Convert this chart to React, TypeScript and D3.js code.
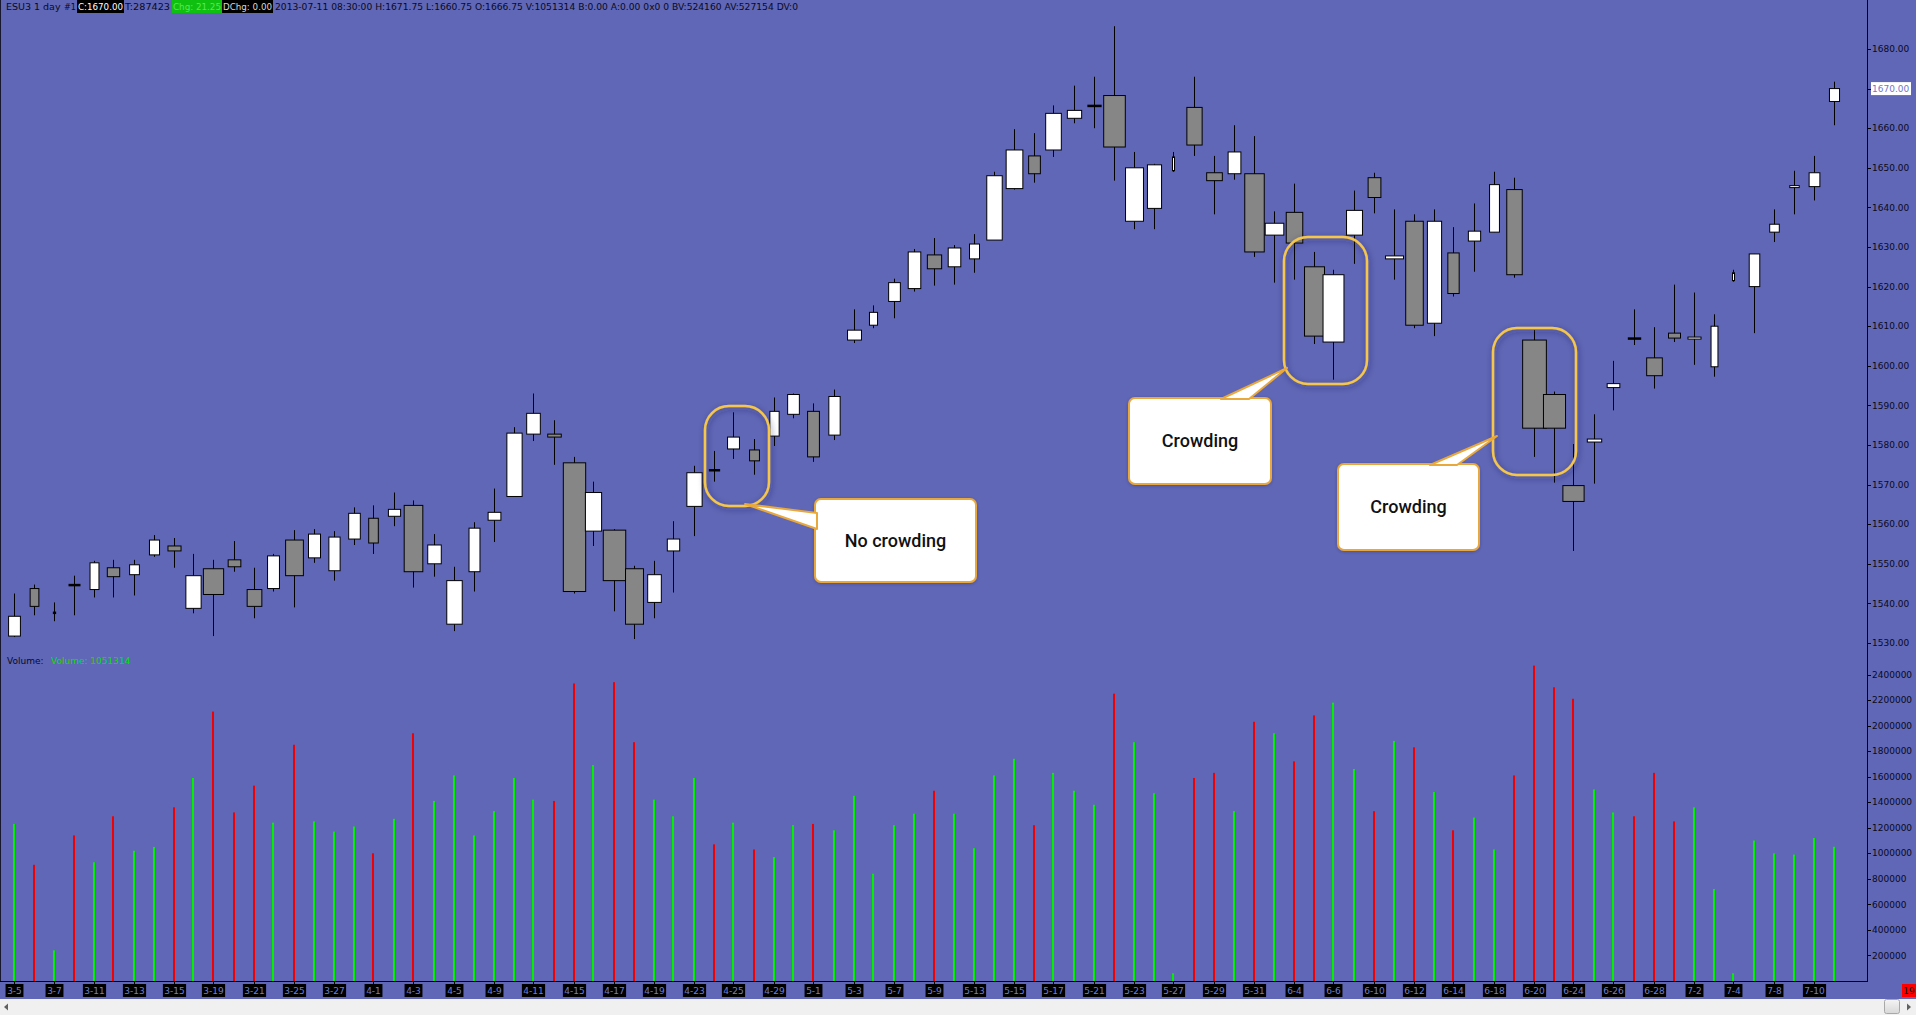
import React from "react";
import * as d3 from "d3";

const dates = ["3-5","3-6","3-7","3-8","3-11","3-12","3-13","3-14","3-15","3-18","3-19","3-20","3-21","3-22","3-25","3-26","3-27","3-28","4-1","4-2","4-3","4-4","4-5","4-8","4-9","4-10","4-11","4-12","4-15","4-16","4-17","4-18","4-19","4-22","4-23","4-24","4-25","4-26","4-29","4-30","5-1","5-2","5-3","5-6","5-7","5-8","5-9","5-10","5-13","5-14","5-15","5-16","5-17","5-20","5-21","5-22","5-23","5-24","5-27","5-28","5-29","5-30","5-31","6-3","6-4","6-5","6-6","6-7","6-10","6-11","6-12","6-13","6-14","6-17","6-18","6-19","6-20","6-21","6-24","6-25","6-26","6-27","6-28","7-1","7-2","7-3","7-4","7-5","7-8","7-9","7-10","7-11"];

const opens = [1531.75,1543.75,1537.5,1544.75,1543.5,1549,1547.25,1552.25,1554.5,1538.75,1548.75,1551,1543.5,1543.75,1556,1551.5,1548.25,1556.25,1561.5,1562,1564.75,1550,1534.75,1548,1561,1567,1582.75,1582.75,1575.5,1558.25,1558.5,1548.75,1540.25,1553.25,1564.5,1573.75,1579,1578.75,1582.25,1587.75,1588.5,1582.5,1606.5,1610.25,1616.25,1619.5,1628,1625,1627,1631.75,1644.75,1653,1654.5,1662.5,1665.5,1668.25,1636.5,1639.75,1649.25,1665.25,1648.75,1648.5,1648.5,1633,1638.75,1625,1606,1633,1647.5,1627,1636.5,1610.75,1628.5,1631.5,1633.75,1644.5,1606.5,1592.75,1569.75,1580.75,1594.5,1607,1602,1608.25,1606.75,1599.75,1621.5,1620,1633.75,1645,1645.25,1666.75];
const highs = [1542.5,1544.75,1540.25,1547,1550.75,1551,1551,1557.25,1556.5,1552.5,1551,1555.75,1549,1552.5,1558.5,1558.75,1558.25,1564.25,1564.75,1568,1566,1557.5,1549.25,1560.5,1569,1584.5,1593,1586.25,1577,1570.75,1558.75,1549.5,1550.75,1560.75,1574.75,1578.5,1588.25,1581.5,1592,1593,1590.5,1594,1614.25,1615.25,1622,1629.5,1632.25,1630.5,1633.25,1649,1659.75,1658.75,1665.75,1670.75,1673,1685.75,1654,1651,1654,1673,1653,1660.75,1658,1639,1646,1628.75,1624.25,1644.25,1648.75,1639.5,1638.25,1639.5,1635,1641,1649,1647.5,1609,1593.5,1580.25,1587.75,1601.25,1614.25,1609.75,1620.5,1618.5,1613,1624.25,1628.25,1639.5,1649.25,1653,1671.75];
const lows = [1531.5,1537,1535.5,1537,1541.5,1541.5,1542,1551.75,1549,1537.5,1531.75,1548,1536.25,1543,1539,1550.25,1545.75,1554.75,1552.5,1559.5,1544,1546.75,1533,1543,1555.5,1567,1581,1575,1542.5,1554.5,1538,1531,1536.25,1542.75,1557,1570.75,1576.5,1572.5,1579.75,1586.75,1575.75,1581.25,1605.75,1609.5,1612,1618.75,1620.25,1620.5,1623.5,1631.75,1644.5,1646.25,1652.75,1661.25,1660,1646.75,1634.5,1634.5,1649,1653,1638.25,1647,1627.5,1621,1621.75,1605.5,1596.5,1625.75,1638.5,1621.75,1609.5,1607.5,1617.5,1623.75,1633.75,1622.25,1577,1570.5,1553.25,1570.25,1588.75,1605.25,1594.25,1606,1600.25,1597.25,1621.25,1608.25,1631.25,1638.25,1641.75,1660.75];
const closes = [1536.75,1539.25,1537.75,1544.5,1550.25,1546.75,1549.75,1556,1553.25,1547,1542.25,1549.25,1539.25,1552,1547,1557.5,1556.75,1562.75,1555.25,1563.75,1548,1554.75,1545.75,1559,1563,1583,1588,1582,1543,1568,1545.75,1534.75,1547.25,1556.25,1573,1573.5,1582,1576,1588.5,1592.75,1577,1592.25,1609,1613.5,1621,1628.75,1624.5,1629.75,1630.75,1648,1654.5,1648.5,1663.75,1664.5,1665.75,1655.25,1650,1650.75,1652.75,1655.75,1646.75,1654,1628.75,1636,1631,1607.5,1623,1639.25,1642.5,1627.75,1610.25,1636.5,1618.25,1634,1645.75,1623,1584.25,1584.25,1565.75,1581.5,1595.5,1606.75,1597.5,1607,1607.25,1610,1623.5,1628.25,1635.75,1645.5,1648.75,1670];
const volumes = [1230000,910000,240000,1140000,930000,1290000,1020000,1050000,1360000,1590000,2110000,1320000,1530000,1240000,1850000,1250000,1170000,1210000,1000000,1270000,1940000,1410000,1610000,1140000,1330000,1590000,1420000,1410000,2330000,1690000,2340000,1870000,1420000,1290000,1590000,1070000,1240000,1030000,970000,1220000,1230000,1180000,1450000,840000,1220000,1310000,1490000,1310000,1040000,1610000,1740000,1220000,1630000,1490000,1380000,2250000,1870000,1470000,60000,1590000,1630000,1330000,2030000,1940000,1720000,2080000,2180000,1660000,1330000,1880000,1830000,1480000,1180000,1280000,1030000,1610000,2470000,2300000,2210000,1500000,1320000,1290000,1630000,1250000,1360000,720000,60000,1100000,1000000,990000,1120000,1051314];

const priceTicks = [1680,1670,1660,1650,1640,1630,1620,1610,1600,1590,1580,1570,1560,1550,1540,1530];
const volumeTicks = [2400000,2200000,2000000,1800000,1600000,1400000,1200000,1000000,800000,600000,400000,200000];

const callouts = [
  { label: "No crowding", first: 35, last: 37 },
  { label: "Crowding", first: 65, last: 66 },
  { label: "Crowding", first: 76, last: 77 },
];

const W = 1916, H = 1015;
const BG = "#6067b6";
const AXIS_X = 1867;
const BOTTOM = 981;

export default function App() {
  const x = d3.scaleLinear().domain([0, dates.length - 1]).range([13.5, 1833.5]);
  const yP = d3.scaleLinear().domain([1530, 1680]).range([643, 49]);
  const yV = d3.scaleLinear().domain([0, 2400000]).range([BOTTOM, BOTTOM - 2.4 * 127.7]);
  const wS = d3.scaleLinear().domain([0, 2500000]).range([0, 24]);
  const font = "'DejaVu Sans', Verdana, sans-serif";

  const circ = [
    { x0: 705, y0: 406, x1: 769, y1: 506 },
    { x0: 1284, y0: 237, x1: 1367, y1: 384 },
    { x0: 1493, y0: 328, x1: 1576, y1: 475 },
  ];
  const boxes = [
    { x0: 815, y0: 499, x1: 976, y1: 582, ptr: "745,504 817,513 817,529" },
    { x0: 1129, y0: 398, x1: 1271, y1: 484, ptr: "1287,368 1221,399 1249,399" },
    { x0: 1338, y0: 464, x1: 1479, y1: 550, ptr: "1497,436 1430,465 1457,465" },
  ];

  return (
    <div style={{ position: "absolute", left: 0, top: 0, width: W, height: H, overflow: "hidden" }}>
      <svg width={W} height={H} style={{ display: "block" }} fontFamily={font}>
        <defs>
          <filter id="sh" x="-30%" y="-30%" width="160%" height="160%">
            <feDropShadow dx="1" dy="2" stdDeviation="3" floodColor="#202050" floodOpacity="0.55" />
          </filter>
          <filter id="sh2" x="-10%" y="-10%" width="120%" height="130%">
            <feDropShadow dx="0" dy="1" stdDeviation="1.5" floodColor="#303060" floodOpacity="0.4" />
          </filter>
          <linearGradient id="thumb" x1="0" y1="0" x2="0" y2="1">
            <stop offset="0" stopColor="#f4f4f4" />
            <stop offset="1" stopColor="#d8d8d8" />
          </linearGradient>
        </defs>
        <rect x={0} y={0} width={W} height={H} fill={BG} />

        {/* header */}
        <g fontSize={9.5}>
          <text x={6} y={10} fill="#0a0a20">ESU3</text>
          <text x={34} y={10} fill="#0a0a20">1 day</text>
          <text x={64} y={10} fill="#0a0a20" textLength={12} lengthAdjust="spacingAndGlyphs">#1</text>
          <rect x={77} y={0} width={47} height={13} fill="#000" />
          <text x={78} y={10} fill="#ffffff" textLength={45} lengthAdjust="spacingAndGlyphs">C:1670.00</text>
          <text x={125} y={10} fill="#0a0a20" textLength={45} lengthAdjust="spacingAndGlyphs">T:287423</text>
          <rect x={172} y={0} width={50} height={13} fill="#10c010" />
          <text x={173} y={10} fill="#58e858" textLength={48} lengthAdjust="spacingAndGlyphs">Chg: 21.25</text>
          <rect x={222} y={0} width={51} height={13} fill="#000" />
          <text x={223} y={10} fill="#d8d8d8" textLength={49} lengthAdjust="spacingAndGlyphs">DChg: 0.00</text>
          <text x={275} y={10} fill="#0a0a20" textLength={523} lengthAdjust="spacingAndGlyphs">2013-07-11 08:30:00 H:1671.75 L:1660.75 O:1666.75 V:1051314 B:0.00 A:0.00 0x0 0 BV:524160 AV:527154 DV:0</text>
        </g>

        {/* volume label */}
        <text x={7} y={664} fontSize={9} fill="#0a0a20">Volume:</text>
        <text x={51} y={664} fontSize={9} fill="#00e000">Volume: 1051314</text>

        {/* volume bars */}
        {volumes.map((v, i) => (
          <rect key={"v" + i} x={Math.round(x(i)) - 1} y={yV(v)} width={2} height={BOTTOM - yV(v)}
            fill={closes[i] >= opens[i] ? "#00f000" : "#f00000"} />
        ))}

        {/* candles */}
        {dates.map((d, i) => {
          const cx = Math.round(x(i)) + 0.5;
          const w = Math.max(2, wS(volumes[i]));
          const top = yP(Math.max(opens[i], closes[i]));
          const bot = yP(Math.min(opens[i], closes[i]));
          const h = bot - top;
          const up = closes[i] >= opens[i];
          return (
            <g key={"c" + i}>
              <line x1={cx} x2={cx} y1={yP(highs[i])} y2={yP(lows[i])} stroke="#000" strokeWidth={1} />
              {h < 1.6 ? (
                <rect x={cx - w / 2 - 0.5} y={(top + bot) / 2 - 1.25} width={w + 1} height={2.5} fill="#000" />
              ) : (
                <rect x={cx - w / 2} y={top} width={w} height={h} fill={up ? "#ffffff" : "#868686"} stroke="#000" strokeWidth={1} />
              )}
            </g>
          );
        })}

        {/* axes lines */}
        <line x1={0.5} x2={0.5} y1={0} y2={BOTTOM} stroke="#181830" strokeWidth={1} />
        <line x1={AXIS_X + 0.5} x2={AXIS_X + 0.5} y1={0} y2={BOTTOM} stroke="#000" strokeWidth={1} />
        <line x1={0} x2={AXIS_X + 1} y1={BOTTOM + 0.5} y2={BOTTOM + 0.5} stroke="#000" strokeWidth={1} />

        {/* price axis */}
        {priceTicks.map((p) => (
          <g key={"p" + p}>
            <line x1={AXIS_X} x2={AXIS_X + 4} y1={Math.round(yP(p)) + 0.5} y2={Math.round(yP(p)) + 0.5} stroke="#000" />
            {p === 1670 ? (
              <g>
                <rect x={1871} y={yP(p) - 6.5} width={40} height={13} fill="#ffffff" />
                <text x={1872} y={yP(p)} dy="0.35em" fontSize={9} fill="#7078d0">1670.00</text>
              </g>
            ) : (
              <text x={1872} y={yP(p)} dy="0.35em" fontSize={9} fill="#0a0a20">{p.toFixed(2)}</text>
            )}
          </g>
        ))}

        {/* volume axis */}
        {volumeTicks.map((v) => (
          <g key={"vt" + v}>
            <line x1={AXIS_X} x2={AXIS_X + 4} y1={Math.round(yV(v)) + 0.5} y2={Math.round(yV(v)) + 0.5} stroke="#000" />
            <text x={1872} y={yV(v)} dy="0.35em" fontSize={9} fill="#0a0a20">{v}</text>
          </g>
        ))}

        {/* date labels */}
        {dates.map((d, i) => {
          if (i % 2 !== 0) return null;
          const cx = Math.round(x(i)) + 0.5;
          const bw = d.length * 5.3 + 2;
          return (
            <g key={"d" + i}>
              <line x1={cx} x2={cx} y1={BOTTOM} y2={985} stroke="#000" />
              <rect x={cx - bw / 2} y={984} width={bw} height={13} fill="#000" />
              <text x={cx} y={994} textAnchor="middle" fontSize={9} fill="#7080d0">{d}</text>
            </g>
          );
        })}
        <rect x={1902} y={984} width={14} height={13} fill="#ff0000" />
        <text x={1909} y={994} textAnchor="middle" fontSize={9} fill="#000">19</text>

        {/* scrollbar */}
        <rect x={0} y={999} width={W} height={16} fill="#f0f0f0" />
        <path d="M4,1007 L8,1003.5 L8,1010.5 Z" fill="#606060" />
        <rect x={1884.5} y={999.5} width={15} height={14} rx={2} fill="url(#thumb)" stroke="#a8a8a8" />
        <path d="M1911,1007 L1907,1003.5 L1907,1010.5 Z" fill="#606060" />

        {/* callouts */}
        {callouts.map((c, k) => {
          const cc = circ[k];
          const b = boxes[k];
          return (
            <g key={"co" + k}>
              <rect x={cc.x0} y={cc.y0} width={cc.x1 - cc.x0} height={cc.y1 - cc.y0} rx={24} ry={24}
                fill="none" stroke="#f5c64a" strokeWidth={2.5} filter="url(#sh)" />
              <rect x={b.x0} y={b.y0} width={b.x1 - b.x0} height={b.y1 - b.y0} rx={6} ry={6}
                fill="#ffffff" stroke="#e9a83c" strokeWidth={2} filter="url(#sh2)" />
              <polygon points={b.ptr} fill="#ffffff" stroke="#e9a83c" strokeWidth={2} strokeLinejoin="round" />
              <text x={(b.x0 + b.x1) / 2} y={(b.y0 + b.y1) / 2} dy="0.36em" textAnchor="middle"
                fontFamily="Roboto, 'Open Sans', sans-serif" fontWeight={500} fontSize={18} fill="#111">{c.label}</text>
            </g>
          );
        })}
      </svg>
    </div>
  );
}
